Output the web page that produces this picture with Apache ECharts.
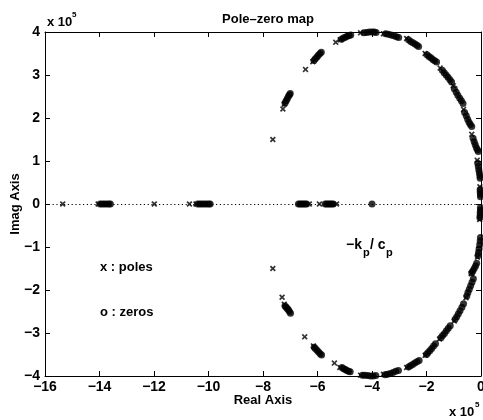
<!DOCTYPE html>
<html>
<head>
<meta charset="utf-8">
<script src="https://cdn.jsdelivr.net/npm/echarts@6/dist/echarts.min.js"></script>
<style>
  html, body { margin: 0; padding: 0; background: #fff; }
  #chart { width: 483px; height: 420px; }
</style>
</head>
<body>
<div id="chart"></div>
<script>
// axis ticks (units of 1e5)
var xTicks = [-16, -14, -12, -10, -8, -6, -4, -2, 0];
var yTicks = [-4, -3, -2, -1, 0, 1, 2, 3, 4];

// poles on the real axis  [re, im]
var realPoles = [[-15.35, 0], [-14.05, 0], [-11.99, 0], [-10.70, 0], [-10.46, 0], [-6.30, 0], [-5.93, 0], [-5.30, 0]];
// zeros on the real axis
var realZeros = [
  [-13.98, 0], [-13.90, 0], [-13.82, 0], [-13.74, 0], [-13.66, 0], [-13.60, 0],
  [-10.40, 0], [-10.32, 0], [-10.24, 0], [-10.16, 0], [-10.08, 0], [-10.00, 0], [-9.94, 0],
  [-6.70, 0], [-6.64, 0], [-6.58, 0], [-6.52, 0], [-6.46, 0], [-6.40, 0],
  [-5.72, 0], [-5.66, 0], [-5.60, 0], [-5.54, 0], [-5.48, 0], [-5.42, 0],
  [-4.00, 0]
];

// upper half plane
var upperPoles = [
  [-7.64, 1.50], [-7.27, 2.21], [-7.22, 2.32], [-6.44, 3.13], [-6.17, 3.31], [-5.33, 3.76], [-5.17, 3.82],
  [-4.42, 3.98], [-3.58, 3.96], [-2.73, 3.85], [-2.05, 3.50], [-1.50, 3.16], [-1.02, 2.75], [-0.64, 2.20],
  [-0.34, 1.62], [-0.14, 1.02], [-0.04, 0.40]
];
var upperZeros = [
  [-7.19, 2.35], [-7.15, 2.40], [-7.11, 2.45], [-7.07, 2.50], [-7.03, 2.54], [-7.00, 2.57],
  [-6.13, 3.34], [-6.08, 3.38], [-6.02, 3.42], [-5.97, 3.46], [-5.91, 3.50], [-5.86, 3.53],
  [-5.12, 3.83], [-5.05, 3.86], [-4.98, 3.88], [-4.91, 3.90], [-4.84, 3.92], [-4.78, 3.93],
  [-4.30, 3.98], [-4.20, 3.99], [-4.10, 4.00], [-4.00, 4.00], [-3.92, 4.00], [-3.85, 3.99],
  [-3.50, 3.96], [-3.40, 3.95], [-3.30, 3.93], [-3.20, 3.91], [-3.10, 3.89], [-3.02, 3.87],
  [-2.66, 3.82], [-2.58, 3.78], [-2.50, 3.75], [-2.42, 3.72], [-2.35, 3.69], [-2.29, 3.66],
  [-1.98, 3.47], [-1.91, 3.43], [-1.84, 3.40], [-1.77, 3.36], [-1.70, 3.33], [-1.63, 3.30],
  [-1.42, 3.11], [-1.35, 3.05], [-1.28, 3.00], [-1.21, 2.95], [-1.14, 2.89], [-1.08, 2.84],
  [-0.98, 2.68], [-0.91, 2.60], [-0.85, 2.53], [-0.78, 2.46], [-0.72, 2.40], [-0.66, 2.34],
  [-0.60, 2.13], [-0.54, 2.05], [-0.49, 1.97], [-0.44, 1.90], [-0.39, 1.85], [-0.34, 1.80],
  [-0.29, 1.53], [-0.25, 1.45], [-0.21, 1.38], [-0.17, 1.31], [-0.13, 1.26], [-0.10, 1.22],
  [-0.12, 0.95], [-0.10, 0.87], [-0.08, 0.79], [-0.06, 0.72], [-0.04, 0.65], [-0.03, 0.60],
  [-0.03, 0.34], [-0.03, 0.28], [-0.02, 0.22], [-0.02, 0.17]
];

// lower half plane
var lowerPoles = [
  [-7.64, -1.50], [-7.30, -2.17], [-7.22, -2.33], [-6.47, -3.09], [-6.15, -3.30], [-5.38, -3.70], [-5.18, -3.80],
  [-4.42, -3.98], [-3.58, -3.96], [-2.73, -3.80], [-2.05, -3.52], [-1.52, -3.14], [-0.98, -2.72], [-0.55, -2.18],
  [-0.36, -1.62], [-0.13, -1.24], [-0.05, -0.36]
];
var lowerZeros = [
  [-0.02, -0.08], [-0.02, -0.14], [-0.03, -0.20], [-0.03, -0.26], [-0.04, -0.32],
  [-0.02, -0.78], [-0.03, -0.86], [-0.05, -0.95], [-0.07, -1.04], [-0.09, -1.12], [-0.11, -1.20],
  [-0.16, -1.38], [-0.20, -1.44], [-0.25, -1.50], [-0.30, -1.56], [-0.34, -1.60],
  [-0.28, -1.74], [-0.33, -1.82], [-0.38, -1.90], [-0.43, -1.98], [-0.48, -2.06], [-0.52, -2.14],
  [-0.64, -2.32], [-0.70, -2.40], [-0.77, -2.48], [-0.83, -2.55], [-0.89, -2.62], [-0.95, -2.68],
  [-1.13, -2.83], [-1.20, -2.89], [-1.27, -2.95], [-1.34, -3.01], [-1.41, -3.06], [-1.47, -3.11],
  [-1.67, -3.25], [-1.74, -3.30], [-1.81, -3.36], [-1.88, -3.41], [-1.95, -3.46], [-2.00, -3.50],
  [-2.27, -3.64], [-2.35, -3.67], [-2.43, -3.70], [-2.51, -3.73], [-2.59, -3.76], [-2.66, -3.79],
  [-3.03, -3.87], [-3.13, -3.89], [-3.23, -3.92], [-3.33, -3.94], [-3.43, -3.96], [-3.52, -3.97],
  [-3.86, -3.99], [-3.96, -4.00], [-4.06, -4.00], [-4.16, -3.99], [-4.26, -3.98], [-4.35, -3.98],
  [-4.80, -3.90], [-4.86, -3.89], [-4.92, -3.87], [-4.98, -3.85], [-5.04, -3.83], [-5.10, -3.80],
  [-5.85, -3.51], [-5.90, -3.48], [-5.96, -3.44], [-6.02, -3.40], [-6.08, -3.36], [-6.12, -3.33],
  [-6.99, -2.54], [-7.03, -2.50], [-7.07, -2.46], [-7.11, -2.43], [-7.15, -2.40], [-7.19, -2.37]
];

var poles = realPoles.concat(upperPoles, lowerPoles);
var zeros = realZeros.concat(upperZeros, lowerZeros);

var FONT = 'Liberation Sans, Arial, sans-serif';
// bold "x" marker
var xMark = 'path://M0,2L2,0L5,3L8,0L10,2L7,5L10,8L8,10L5,7L2,10L0,8L3,5Z';

function fmt(v) {
  return String(v).replace('-', '\u2212');
}

var chart = echarts.init(document.getElementById('chart'));

var axisCommon = {
  axisLine: { show: true, onZero: false, lineStyle: { color: '#000', width: 1 } },
  axisTick: { show: true, inside: true, length: 5, lineStyle: { color: '#000' } },
  splitLine: { show: false }
};

chart.setOption({
  animation: false,
  backgroundColor: '#fff',
  title: {
    text: 'Pole\u2013zero map',
    left: 263,
    top: 8,
    textAlign: 'center',
    textStyle: { fontFamily: FONT, fontSize: 13, fontWeight: 'bold', color: '#000' }
  },
  grid: { left: 45, right: 2, top: 32, bottom: 44, containLabel: false, outerBoundsMode: 'none' },
  xAxis: [
    Object.assign({
      type: 'value', min: xTicks[0], max: xTicks[xTicks.length - 1], interval: 2,
      position: 'bottom',
      name: 'Real Axis', nameLocation: 'middle', nameGap: 18, nameMoveOverlap: false,
      nameTextStyle: { fontFamily: FONT, fontSize: 13, fontWeight: 'bold', color: '#000' },
      axisLabel: { margin: 4, fontFamily: FONT, fontSize: 14, fontWeight: 'bold', color: '#000', formatter: fmt }
    }, axisCommon),
    Object.assign({
      type: 'value', min: xTicks[0], max: xTicks[xTicks.length - 1], interval: 2,
      position: 'top', axisLabel: { show: false }
    }, axisCommon)
  ],
  yAxis: [
    Object.assign({
      type: 'value', min: yTicks[0], max: yTicks[yTicks.length - 1], interval: 1,
      position: 'left',
      name: 'Imag Axis', nameLocation: 'middle', nameGap: 23, nameRotate: 90, nameMoveOverlap: false,
      nameTextStyle: { fontFamily: FONT, fontSize: 13, fontWeight: 'bold', color: '#000' },
      axisLabel: { margin: 5, fontFamily: FONT, fontSize: 14, fontWeight: 'bold', color: '#000', formatter: fmt }
    }, axisCommon),
    Object.assign({
      type: 'value', min: yTicks[0], max: yTicks[yTicks.length - 1], interval: 1,
      position: 'right', axisLabel: { show: false }
    }, axisCommon)
  ],
  graphic: [
    { type: 'text', left: 47, top: 16, style: { text: 'x 10', font: 'bold 13px ' + FONT, fill: '#000' } },
    { type: 'text', left: 72, top: 11, style: { text: '5', font: 'bold 8px ' + FONT, fill: '#000' } },
    { type: 'text', left: 449, top: 406, style: { text: 'x 10', font: 'bold 13px ' + FONT, fill: '#000' } },
    { type: 'text', left: 475, top: 401, style: { text: '5', font: 'bold 8px ' + FONT, fill: '#000' } },
    { type: 'text', left: 100, top: 261, style: { text: 'x : poles', font: 'bold 13px ' + FONT, fill: '#000' } },
    { type: 'text', left: 100, top: 306, style: { text: 'o : zeros', font: 'bold 13px ' + FONT, fill: '#000' } },
    { type: 'text', left: 346, top: 238, style: { text: '\u2212k', font: 'bold 14px ' + FONT, fill: '#000' } },
    { type: 'text', left: 363, top: 247, style: { text: 'p', font: 'bold 11px ' + FONT, fill: '#000' } },
    { type: 'text', left: 370, top: 238, style: { text: '/ c', font: 'bold 14px ' + FONT, fill: '#000' } },
    { type: 'text', left: 386, top: 247, style: { text: 'p', font: 'bold 11px ' + FONT, fill: '#000' } }
  ],
  series: [
    {
      name: 'zeros',
      type: 'scatter',
      clip: false,
      symbol: 'circle',
      symbolSize: 7,
      itemStyle: { color: '#000' },
      data: zeros,
      markLine: {
        silent: true,
        symbol: 'none',
        label: { show: false },
        lineStyle: { color: '#000', width: 1, type: [1.2, 2.6] },
        data: [{ yAxis: 0 }]
      },
      z: 3
    },
    {
      name: 'poles',
      type: 'scatter',
      clip: false,
      symbol: xMark,
      symbolSize: 6,
      itemStyle: { color: '#000' },
      data: poles,
      z: 4
    }
  ]
});
</script>
</body>
</html>
